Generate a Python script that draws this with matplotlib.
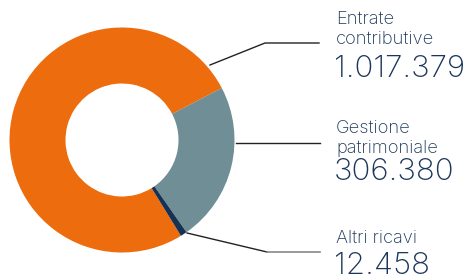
import matplotlib.pyplot as plt

labels = ['Entrate\ncontributive', 'Gestione\npatrimoniale', 'Altri ricavi']
values = [1017379, 306380, 12458]
value_labels = ['1.017.379', '306.380', '12.458']
colors = ['#ec6c0e', '#6f8e96', '#163152']
text_color = '#1c3659'

plt.rcParams['font.family'] = ['Inter', 'DejaVu Sans']

fig = plt.figure(figsize=(4.72, 2.8), dpi=100)
ax = fig.add_axes([0, 0, 1, 1])

# pie in pixel coords; y axis inverted so angles flip -> counterclock True
ax.pie(values, colors=colors, center=(122, 140), radius=112.5,
       startangle=58.4, counterclock=True,
       wedgeprops=dict(width=56, linewidth=0), frame=True)
ax.set_xlim(0, 472)
ax.set_ylim(280, 0)
ax.set_aspect('auto')
ax.axis('off')

# leader lines
ax.plot([210, 265, 319], [65, 43, 43], color='#222222', lw=1)
ax.plot([236, 320], [143, 143], color='#222222', lw=1)
ax.plot([187, 267], [233, 252], color='#222222', lw=1)
ax.plot([267, 320], [252, 252], color='#888888', lw=1.2)

# labels
label_y = [24, 133, 243]
number_y = [77, 180, 274]
for lab, num, ly, ny in zip(labels, value_labels, label_y, number_y):
    for i, line in enumerate(lab.split('\n')):
        ax.text(336, ly + 20 * i, line, fontsize=13.2, color=text_color,
                va='baseline', fontweight='light')
    ax.text(334, ny, num, fontsize=22.5, color=text_color, va='baseline',
            fontweight='light')

fig.savefig('out.png', dpi=100)
